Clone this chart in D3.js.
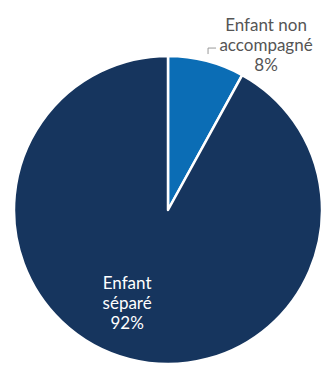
<!DOCTYPE html>
<html>
<head>
<meta charset="utf-8">
<script src="https://cdn.jsdelivr.net/npm/d3@7"></script>
<style>
  html, body { margin: 0; padding: 0; background: #fff; }
  svg { display: block; }
</style>
</head>
<body>
<div id="chart"></div>
<script>
// data
const categories = ["Enfant non accompagné", "Enfant séparé"];
const values = [8, 92];
const labelLines = [["Enfant non", "accompagné", "8%"], ["Enfant", "séparé", "92%"]];
const colors = ["#0b6db5", "#16355e"];

const width = 326, height = 372;
const cx = 168, cy = 210, radius = 154;

const svg = d3.select("#chart").append("svg")
    .attr("width", width)
    .attr("height", height)
    .style("font-family", "Lato, 'Open Sans', sans-serif");

const g = svg.append("g").attr("transform", `translate(${cx},${cy})`);

const pie = d3.pie().sort(null).value(d => d);
const arcs = pie(values);

const arc = d3.arc().innerRadius(0).outerRadius(radius);

g.selectAll("path.slice")
    .data(arcs)
    .join("path")
    .attr("class", "slice")
    .attr("d", arc)
    .attr("fill", (d, i) => colors[i])
    .attr("stroke", "#fff")
    .attr("stroke-width", 2.5)
    .attr("stroke-linejoin", "round");

const polar = (a, r) => [Math.sin(a) * r, -Math.cos(a) * r];
const mid = d => (d.startAngle + d.endAngle) / 2;

// outside label for the small slice
const small = arcs[0];
const p0 = polar(mid(small), radius + 7);
const p1 = [p0[0], p0[1] - 6];
const p2 = [p1[0] + 8, p1[1]];
g.append("path")
    .attr("d", d3.line()([p0, p1, p2]))
    .attr("fill", "none")
    .attr("stroke", "#999")
    .attr("stroke-width", 1);

g.append("text")
    .attr("text-anchor", "middle")
    .attr("fill", "#555")
    .attr("font-size", 17)
    .selectAll("tspan")
    .data(labelLines[0])
    .join("tspan")
    .attr("x", p2[0] + 50)
    .attr("y", (d, i) => p2[1] + 3 + (i - 1) * 20)
    .text(d => d);

// inside label for the big slice
const big = arcs[1];
const pl = polar(mid(big) + 0.17, 100);
g.append("text")
    .attr("text-anchor", "middle")
    .attr("fill", "#fff")
    .attr("font-size", 17)
    .selectAll("tspan")
    .data(labelLines[1])
    .join("tspan")
    .attr("x", pl[0])
    .attr("y", (d, i) => pl[1] + 8 + (i - 1) * 20)
    .text(d => d);
</script>
</body>
</html>
